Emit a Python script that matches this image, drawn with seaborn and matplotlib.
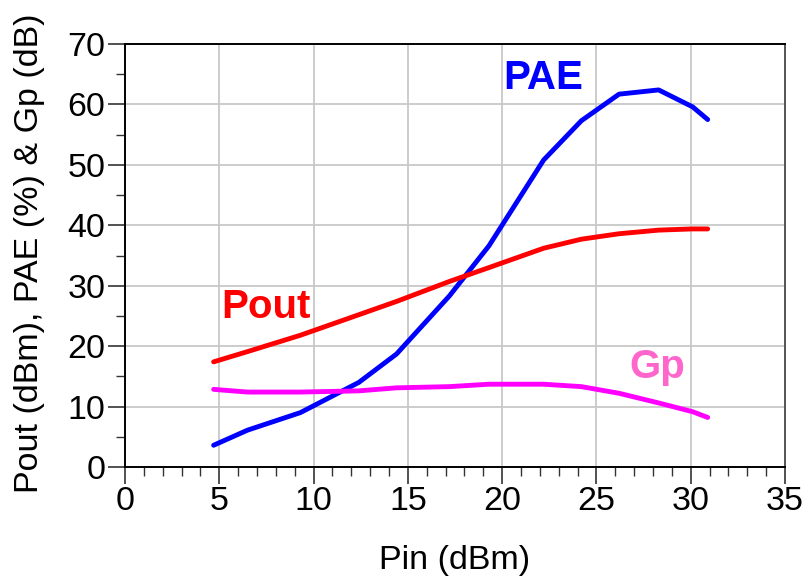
import matplotlib
matplotlib.use("Agg")
import matplotlib.pyplot as plt
from matplotlib.ticker import MultipleLocator
import seaborn as sns
import pandas as pd

# Power sweep of the amplifier
pin_dbm = [4.7, 6.5, 9.3, 12.4, 14.4, 17.2, 19.3, 22.2, 24.2, 26.2, 28.3, 30.1, 30.9]
pae_pct = [3.6, 6.1, 9.0, 14.0, 18.7, 28.3, 36.6, 50.8, 57.3, 61.7, 62.4, 59.6, 57.5]
pout_dbm = [17.4, 19.1, 21.8, 25.2, 27.4, 30.7, 33.0, 36.2, 37.7, 38.6, 39.2, 39.4, 39.4]
gp_db = [12.85, 12.4, 12.4, 12.6, 13.1, 13.3, 13.7, 13.7, 13.3, 12.2, 10.6, 9.15, 8.2]

x_ticks = [0, 5, 10, 15, 20, 25, 30, 35]
y_ticks = [0, 10, 20, 30, 40, 50, 60, 70]

sns.set_theme(style="whitegrid")
plt.rcParams["font.family"] = ["Liberation Sans", "DejaVu Sans"]

df = pd.DataFrame({
    "Pin": pin_dbm * 3,
    "value": pae_pct + pout_dbm + gp_db,
    "trace": ["PAE"] * len(pin_dbm) + ["Pout"] * len(pin_dbm) + ["Gp"] * len(pin_dbm),
})
palette = {"PAE": "#0000FF", "Pout": "#FF0000", "Gp": "#FF00FF"}

fig = plt.figure(figsize=(8.05, 5.85), dpi=100)
ax = fig.add_axes([125 / 805, 1 - 467 / 585, 660 / 805, 423 / 585])

sns.lineplot(data=df, x="Pin", y="value", hue="trace", palette=palette,
             linewidth=3.5, legend=False, ax=ax, sort=False)

ax.set_xlim(0, 35)
ax.set_ylim(0, 70)
ax.set_xticks(x_ticks)
ax.set_yticks(y_ticks)
ax.xaxis.set_minor_locator(MultipleLocator(1))
ax.yaxis.set_minor_locator(MultipleLocator(5))

ax.grid(True, which="major", color="#C8C8C8", linewidth=1.3)
ax.grid(False, which="minor")
ax.set_facecolor("white")
ax.set_axisbelow(True)

for side in ["left", "bottom", "top"]:
    ax.spines[side].set_color("#000000")
    ax.spines[side].set_linewidth(1.4)
ax.spines["right"].set_color("#555555")
ax.spines["right"].set_linewidth(1.4)

ax.tick_params(axis="both", which="major", direction="out", length=12,
               width=1.2, color="#333333", labelsize=24.5, pad=2, labelcolor="black")
ax.tick_params(axis="both", which="minor", direction="out", length=6.5,
               width=1.0, color="#333333")
ax.tick_params(axis="x", which="both", bottom=True)
ax.tick_params(axis="y", which="both", left=True)

ax.set_xlabel("Pin (dBm)", fontsize=24.5, labelpad=20, color="black")
ax.set_ylabel("Pout (dBm), PAE (%) & Gp (dB)", fontsize=24.5, color="black")
ax.yaxis.set_label_coords(-0.121, 0.505)

ax.text(22.2, 64.3, "PAE", color="#0000FF", fontsize=29, fontweight="bold", ha="center", va="center")
ax.text(7.5, 26.5, "Pout", color="#FF0000", fontsize=29, fontweight="bold", ha="center", va="center")
ax.text(28.2, 16.6, "Gp", color="#FF66CC", fontsize=29, fontweight="bold", ha="center", va="center")

fig.savefig("out.png", dpi=100, facecolor="white")
